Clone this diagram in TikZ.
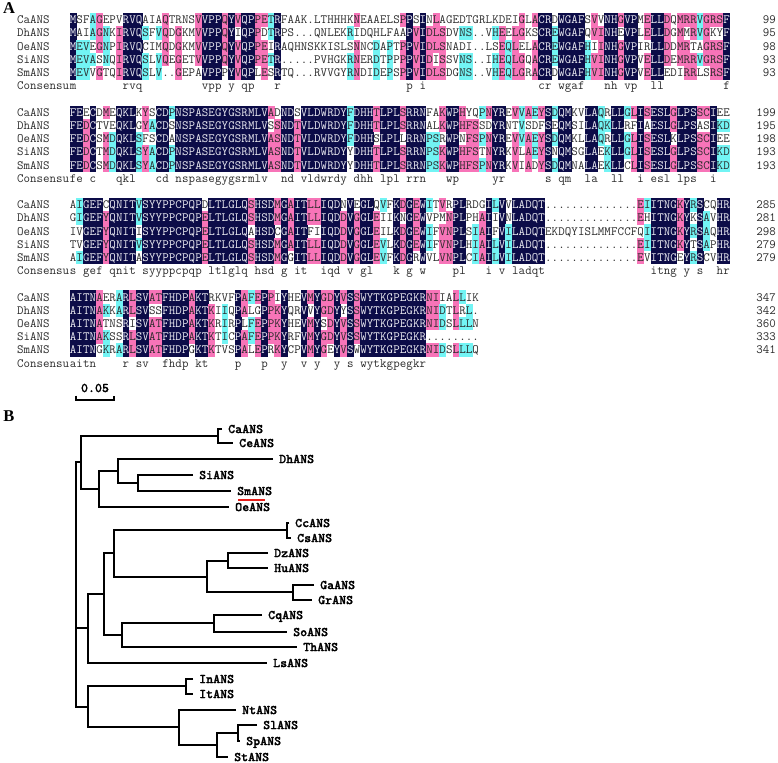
\documentclass[tikz,border=0pt]{standalone}
\usepackage{fontspec}
\newfontfamily\panelfont{Liberation Serif}
\newfontfamily\taxfont{lmmonolt10-bold.otf}[FakeBold=1.2]
\usepackage{xcolor}
\definecolor{alnNavy}{HTML}{0C0C48}
\definecolor{alnPink}{HTML}{F774B8}
\definecolor{alnCyan}{HTML}{72F4F4}
\definecolor{alnInk}{HTML}{2A2A2A}
\definecolor{alnLight}{HTML}{EEEEF4}
\definecolor{markRed}{HTML}{E8201C}
\usepackage{tikz}
\usetikzlibrary{positioning}
\newcommand\alnfont{\fontsize{12.6}{13}\selectfont\ttfamily}
\tikzset{
  res/.style={inner sep=0pt,minimum width=6.8pt,minimum height=13.5pt,
    text height=7.6pt,text depth=0pt,font=\alnfont,text=alnInk},
  % identity classes: 5/5 navy, 4/5 pink, 3/5 cyan
  res-id/.style={fill=alnNavy,text=alnLight},
  res-hi/.style={fill=alnPink},
  res-mid/.style={fill=alnCyan},
  res-no/.style={},
  res-cons/.style={text=alnInk},
  seqname/.style={inner sep=0pt,anchor=west,text height=7.6pt,text depth=0pt,
    font=\alnfont,text=alnInk},
  seqnum/.style={seqname,anchor=east},
  taxon/.style={inner sep=0pt,anchor=west,text height=8.2pt,text depth=0pt,
    font=\taxfont\fontsize{13.3}{14}\selectfont},
  branch/.style={draw=black,line width=1.4pt},
  smmark/.style={draw=markRed,line width=1.7pt},
  panel/.style={inner sep=0pt,font=\panelfont\bfseries\fontsize{16.5}{18}\selectfont},
}
\newcommand\alncell[4]{\node[res,#3] (r#2-#1) at ({66.5+6.6*#1},{20+13.2*#2}) {#4};}
\ExplSyntaxOn
\cs_generate_variant:Nn \str_item:Nn { c }
\cs_generate_variant:Nn \str_count:N { c }
\int_step_inline:nn { 5 } { \str_new:c { l_aln_row_#1_str } }
\int_new:N \l_aln_len_int
\int_new:N \l_aln_hits_int
\tl_new:N \l_aln_char_tl
\tl_new:N \l_aln_cons_tl
\tl_new:N \l_aln_style_tl
\cs_new_protected:Npn \aln_block:nnnnnn #1#2#3#4#5#6
  {
    \str_set:cn { l_aln_row_1_str } {#2}
    \str_set:cn { l_aln_row_2_str } {#3}
    \str_set:cn { l_aln_row_3_str } {#4}
    \str_set:cn { l_aln_row_4_str } {#5}
    \str_set:cn { l_aln_row_5_str } {#6}
    \int_zero:N \l_aln_len_int
    \int_step_inline:nn { 5 }
      {
        \int_set:Nn \l_aln_len_int
          { \int_max:nn { \l_aln_len_int } { \str_count:c { l_aln_row_##1_str } } }
      }
    \int_step_inline:nn { \l_aln_len_int }
      {
        \tl_clear:N \l_aln_cons_tl
        \int_step_inline:nn { 5 }
          {
            \tl_set:Ne \l_aln_char_tl { \str_item:cn { l_aln_row_####1_str } { ##1 } }
            \int_zero:N \l_aln_hits_int
            \int_step_inline:nn { 5 }
              {
                \str_if_eq:eeT { \l_aln_char_tl }
                  { \str_item:cn { l_aln_row_########1_str } { ##1 } }
                  { \int_incr:N \l_aln_hits_int }
              }
            \str_if_eq:eeT { \l_aln_char_tl } { . } { \int_zero:N \l_aln_hits_int }
            \tl_set:Ne \l_aln_style_tl
              {
                \int_case:nnF { \l_aln_hits_int }
                  { { 5 } { res-id } { 4 } { res-hi } { 3 } { res-mid } }
                  { res-no }
              }
            \tl_if_empty:NF \l_aln_char_tl
              {
                \use:e
                  {
                    \exp_not:N \alncell { ##1 } { \int_eval:n { #1 + ####1 - 1 } }
                      { \l_aln_style_tl } { \l_aln_char_tl }
                  }
              }
            \int_compare:nNnT { \l_aln_hits_int } = { 5 }
              { \tl_set:Ne \l_aln_cons_tl { \str_lowercase:f { \l_aln_char_tl } } }
          }
        \bool_lazy_and:nnT { \tl_if_empty_p:N \l_aln_cons_tl }
          { \int_compare_p:nNn { ##1 } = { 1 } }
          { \tl_set:Nn \l_aln_cons_tl { s } }
        \tl_if_empty:NF \l_aln_cons_tl
          {
            \use:e
              {
                \exp_not:N \alncell { ##1 } { \int_eval:n { #1 + 5 } }
                  { res-cons } { \l_aln_cons_tl }
              }
          }
      }
  }
\NewDocumentCommand \alnblock { m m m m m m }
  { \aln_block:nnnnnn {#1} {#2} {#3} {#4} {#5} {#6} }
\ExplSyntaxOff
\begin{document}
\begin{tikzpicture}[x=1pt,y=-1pt]
  \useasboundingbox (0,0) rectangle (778,762);
  \node[panel] (lbl-a) at (9,8) {A};
  \node[panel] (lbl-b) at (9,416) {B};

  % --- A: alignment ---
  \foreach \blk/\nums in {0/{99,95,98,93,93},1/{199,195,198,193,193},
      2/{285,281,298,279,279},3/{347,342,360,333,341}}{
    \foreach \nm [count=\r from 0] in {CaANS,DhANS,OeANS,SiANS,SmANS}
      \node[seqname] (nm-\blk-\r) at (17,{20+13.2*(7*\blk+\r)}) {\nm};
    \foreach \n [count=\r from 0] in \nums
      \node[seqnum] (num-\blk-\r) at (776,{20+13.2*(7*\blk+\r)}) {\n};
    \node[seqname] (cons-\blk) at (17,{20+13.2*(7*\blk+5)}) {Consensu};
  }
  \alnblock{0}
    {MSFAGEPVRVQAIAQTRNSVVPPQYVQPPETRFAAK.LTHHHKNEAAELSPPSINLAGEDTGRLKDEIGLACRDWGAFSVVNHGVPMELLDQMRRVGRSF}
    {MAIAGNKIRVQSFVQDGKMVVPPQYIQPPDTRPS...QNLEKRIDQHLFAAPVIDLSDVNS..VHEELGKSCREWGAFQVINHEVPLELLDGMMRVGKYF}
    {MEVEGNPIRVQCIMQDGKMVVPPQYVQPPEIRAQHNSKKISLSNNCDAPTPPVIDLSNADI..LSEQLELACREWGAFHIINHGVPIRLLDDMRTAGRSF}
    {MEVASNQIRVQSLVQEGETVVPPQYVQPPETR.....PVHGKRNERDTPPPPVIDISSVNS..IHEQLGQACREWGAFHVINHGVPVELLDEMRRVGRSF}
    {MEVVGTQIRVQSLV..GEPAVPPPYVQPLESRTQ...RVVGYRNDIDEPSPPVIDLSDGNS..VHEQLGRACRDWGAFHVINHGVPVELLEDIRRLSRSF}
  \alnblock{7}
    {FEECDMEQKLKYSCDPNSPASEGYGSRMLVADNDSVLDWRDYFDHHTLPLSRRNFAKWPHYQPNYREVVAEYSDQMKVLAQRLLGLISESLGLPSSCIEE}
    {FEDCTVEQKLGYACDSNSPASEGYGSRMLVSSNDTVLDWRDYFDHHTLPLSRRNALKWPHFSSDYRNTVSDFSEQMSILAQKLLRFIAESLGLPSASIKD}
    {FEDCSMDQKLSFSCDANSPASEGYGSRMLVASNDTVLDWRDYFDHHSLPLLRRNPSRWPNFSPNYREVVAEYSDQMKLLAQRLLGLISESLKLPSSCIEE}
    {FEDCTMDQKLSYACDPNSPASEGYGSRMLVASNDTVLDWRDYYDHHTLPLSRRNPSKWPHFSTNYRKVLAEYSNQMSGLAEKLLGLISESLGLPSSCIKD}
    {FEDCSMDQKLSYACDPNSPASEGYGSRMLVASNDTVLDWRDYYDHHTLPLSRRNPSKWPHFSPNYRKVIADYSDQMNALAEKLLCLISESLGLPSSCIKD}
  \alnblock{14}
    {AIGEFCQNITVSYYPPCPQPDLTLGLQSHSDMGAITLLIQDNVEGLQVFKDGEWITVRPLRDGILVVLADQT..............EIITNGKYRSCQHR}
    {GIGEFYQNITVSYYPPCPQPELTLGLQSHSDMGAITLLIQDDVGGLEIIKNGEWVPMNPLPHAIIVNLADQT..............EHITNGKYKSAVHR}
    {IVGEFYQNITISYYPPCPQPELTLGLQAHSDCGAITFIIQDDVGGLEILKDGEWIFVNPLSIAIFVILADQTEKDQYISLMMFCCFQIITNGKYRSAQHR}
    {TVGEFYQNITVSYYPPCPQPELTLGLQSHSDMGAITLLIQDDVGGLEVLKDGEWIFVNPLHIAILVILADQT..............EIITNGKYTSAPHR}
    {AIGEFYQNITASYYPPCPQPELTLGLQSHSDMGGITLLIQDDVGGLEVFKDGRWVLVNPLCIAILVILADQT..............EVITNGEYRSCVHR}
  \alnblock{21}
    {AITNAERARLSVATFHDPAKTRKVFPAFEPPIYHEVMYGDYVSSWYTKGPEGKRNIIALLIK}
    {AITNAKKARLSVSSFHDPAKTKIIQPALGPPKYQRVVYGDYYSSWYTKGPEGKRNIDTLRL.}
    {AITNATNSRISVATFHDPAKTKRIRPLFEPPKYHEVMYSDYVSSWYTKGPEGKRNIDSLLLN}
    {AITNAKSSRLSVATFHDPAKTKTICPAFEPPKYRFVMYGDYVSSWYTKGPEGKR........}
    {AITNGKRARLSVATFHDPGKTKTVSPALEPRKYCPVMYGEYVSWWYTKGPEGKRNIDSLLLQ}

  % scale bar
  \coordinate (sb-l) at (76,400);
  \coordinate (sb-r) at (114,400);
  \draw[branch] ([yshift=4.5pt]sb-l) -- (sb-l) -- (sb-r) -- ([yshift=4.5pt]sb-r);
  \node[taxon,anchor=center] (sb-txt) at (95,388) {0.05};

  % --- B: tree ---
  \foreach \id/\x/\y/\txt in {ca/222/429/CaANS,ce/233/443/CeANS,dh/273/459/DhANS,
      si/193/475/SiANS,sm/231/491/SmANS,oe/229/507/OeANS,cc/289/523/CcANS,
      cs/291/538/CsANS,dz/268/553/DzANS,hu/268/568/HuANS,ga/314/585/GaANS,
      gr/312/600/GrANS,cq/262/615/CqANS,so/287/632/SoANS,th/297/647/ThANS,
      ls/267/663/LsANS,in/193/679/InANS,it/193/694/ItANS,nt/236/710/NtANS,
      sl/257/725/SlANS,sp/240/741/SpANS,st/228/757/StANS}{
    \coordinate (t-\id) at (\x,\y);
    \node[taxon,right=6pt of t-\id] (\id) {\txt};
  }
  \foreach \id/\x/\y in {n-cace/218/436,n-sism/138/483,n-dhsi/118/471,n-dhoe/99/489,
      cl1/81/462,n-cccs/287/530,n-dzhu/228/561,n-gagr/293/592,n-dzga/207/577,
      n-ccdz/114/553,n-cqso/214/623,n-cqth/122/635,n-ccth/104/594,cl2/88/628,
      n-init/186/686,n-slsp/238/733,n-slst/217/745,n-ntst/179/727,cl3/88/707,
      root/76/628}
    \coordinate (\id) at (\x,\y);
  \foreach \a/\p/\b in {t-ca/n-cace/t-ce,t-si/n-sism/t-sm,t-dh/n-dhsi/n-sism,
      n-dhsi/n-dhoe/t-oe,n-cace/cl1/n-dhoe,t-cc/n-cccs/t-cs,t-dz/n-dzhu/t-hu,
      t-ga/n-gagr/t-gr,n-dzhu/n-dzga/n-gagr,n-cccs/n-ccdz/n-dzga,
      t-cq/n-cqso/t-so,n-cqso/n-cqth/t-th,n-ccdz/n-ccth/n-cqth,n-ccth/cl2/t-ls,
      t-in/n-init/t-it,t-sl/n-slsp/t-sp,n-slsp/n-slst/t-st,t-nt/n-ntst/n-slst,
      n-init/cl3/n-ntst,cl1/root/cl3}
    \draw[branch] (\a) -| (\p) |- (\b);
  \draw[branch] (root) -- (cl2);
  % SmANS is underlined in red
  \draw[smmark] ([xshift=7pt,yshift=-9pt]t-sm) -- ([xshift=34pt,yshift=-9pt]t-sm);
\end{tikzpicture}
\end{document}
